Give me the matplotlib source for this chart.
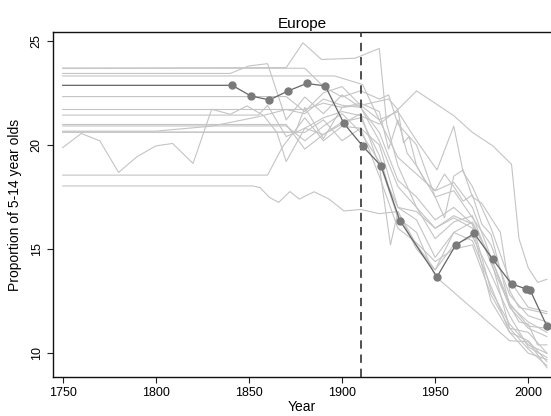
import matplotlib
matplotlib.use("Agg")
import matplotlib.pyplot as plt

plt.rcParams['font.family'] = ['Liberation Sans', 'DejaVu Sans']

title = "Europe"
xlabel = "Year"
ylabel = "Proportion of 5-14 year olds"
xticks = [1750, 1800, 1850, 1900, 1950, 2000]
yticks = [10, 15, 20, 25]
cutoff_year = 1910

# Highlighted country
hi_years = [1750, 1841, 1851, 1861, 1871, 1881, 1891, 1901, 1911, 1921, 1931,
            1951, 1961, 1971, 1981, 1991, 1999, 2001, 2010]
hi_vals = [22.86, 22.86, 22.35, 22.16, 22.59, 22.95, 22.83, 21.03, 19.95, 18.99, 16.37,
           13.67, 15.19, 15.75, 14.50, 13.33, 13.08, 13.03, 11.30]

# Other countries (gray)
g1_years = [1750, 1870, 1879, 1889, 1907, 1920, 1924, 1930, 1940, 1950, 1960, 1970, 1980, 1990, 2000, 2010]
g1_vals = [23.68, 23.71, 24.9, 24.1, 24.16, 24.63, 21.0, 19.0, 17.0, 16.0, 16.6, 16.2, 14.6, 12.2, 11.2, 10.8]

g2_years = [1750, 1840, 1850, 1860, 1870, 1880, 1890, 1900, 1910, 1920, 1930, 1940, 1950, 1960, 1970, 1980, 1990, 2000, 2010]
g2_vals = [23.43, 23.43, 23.79, 23.9, 21.2, 22.3, 21.5, 22.4, 21.8, 20.6, 18.3, 17.5, 16.4, 17.0, 16.2, 13.0, 11.4, 10.4, 10.0]

g3_years = [1750, 1896, 1911, 1920, 1930, 1940, 1950, 1960, 1970, 1980, 1990, 2000, 2010]
g3_vals = [23.31, 23.31, 22.9, 21.2, 19.4, 18.6, 17.8, 18.2, 17.0, 14.6, 12.4, 11.3, 11.2]

g4_years = [1750, 1870, 1880, 1890, 1900, 1910, 1920, 1925, 1930, 1940, 1950, 1960, 1970, 1981, 1991, 1995, 2000, 2005, 2010]
g4_vals = [22.32, 22.32, 21.6, 22.5, 22.8, 21.9, 22.1, 22.2, 21.7, 22.59, 22.0, 21.4, 20.6, 19.95, 19.07, 15.5, 14.1, 13.4, 13.55]

g5_years = [1750, 1880, 1890, 1900, 1910, 1920, 1930, 1940, 1951, 1960, 1965, 1970, 1980, 1990, 2000, 2010]
g5_vals = [21.70, 21.70, 22.0, 21.8, 21.9, 21.2, 21.6, 20.2, 18.8, 20.9, 18.7, 18.0, 16.0, 13.5, 12.2, 12.0]

g6_years = [1750, 1855, 1860, 1870, 1880, 1890, 1900, 1910, 1920, 1930, 1933, 1936, 1940, 1950, 1960, 1970, 1980, 1990, 2000, 2010]
g6_vals = [21.43, 21.43, 21.9, 20.4, 20.8, 21.3, 21.6, 21.4, 21.0, 21.7, 20.1, 20.4, 19.0, 17.5, 17.8, 16.5, 15.2, 12.8, 11.8, 11.5]

g7_years = [1750, 1870, 1880, 1890, 1900, 1910, 1920, 1925, 1930, 1940, 1950, 1960, 1970, 1980, 1990, 2000, 2010]
g7_vals = [20.98, 20.98, 19.8, 20.5, 21.1, 21.3, 19.5, 18.0, 17.0, 16.4, 14.6, 15.8, 15.4, 13.2, 11.0, 10.0, 9.7]

g8_years = [1750, 1870, 1880, 1890, 1900, 1910, 1920, 1930, 1940, 1950, 1990, 2000, 2010]
g8_vals = [20.91, 20.91, 20.2, 20.9, 21.5, 20.6, 19.2, 16.5, 15.8, 13.7, 10.6, 10.55, 9.3]

g9_years = [1750, 1800, 1830, 1855, 1870, 1880, 1890, 1900, 1910, 1920, 1930, 1940, 1950, 1960, 1970, 1980, 1990, 2000, 2010]
g9_vals = [20.66, 20.66, 20.9, 21.35, 21.7, 21.5, 22.2, 21.9, 21.8, 20.2, 18.0, 17.0, 15.5, 16.3, 16.6, 14.3, 12.3, 11.5, 11.0]

g10_years = [1750, 1870, 1880, 1890, 1900, 1910, 1920, 1930, 1940, 1950, 1960, 1970, 1980, 1990, 2000, 2010]
g10_vals = [20.61, 20.61, 20.6, 21.2, 20.2, 20.8, 18.5, 16.0, 15.3, 14.4, 15.0, 15.2, 12.8, 11.2, 10.2, 9.4]

g11_years = [1750, 1860, 1868, 1880, 1890, 1900, 1910, 1920, 1930, 1940, 1950, 1960, 1970, 1980, 1990, 2000, 2010]
g11_vals = [18.55, 18.55, 19.9, 21.3, 20.2, 20.9, 20.8, 20.0, 17.0, 16.8, 16.0, 16.5, 16.0, 12.5, 11.0, 10.6, 9.6]

g12_years = [1750, 1852, 1856, 1861, 1866, 1872, 1877, 1885, 1893, 1901, 1910, 1920, 1930, 1940, 1950, 1960, 1970, 1980, 1990, 2000, 2010]
g12_vals = [18.03, 18.03, 17.95, 17.48, 17.24, 17.76, 17.4, 17.75, 17.4, 16.83, 16.9, 16.7, 16.8, 15.0, 14.0, 15.8, 16.3, 14.5, 11.2, 11.0, 10.0]

g13_years = [1750, 1760, 1770, 1780, 1790, 1800, 1809, 1820, 1830, 1840, 1849, 1858, 1865, 1870, 1880, 1890, 1900, 1910, 1920, 1926, 1930, 1940, 1950, 1960, 1970, 1980, 1990, 2000, 2010]
g13_vals = [19.87, 20.55, 20.19, 18.68, 19.44, 19.95, 20.07, 19.11, 21.71, 21.47, 21.87, 21.4, 20.6, 19.2, 20.8, 20.5, 21.0, 21.5, 19.0, 15.2, 16.8, 15.2, 14.0, 15.2, 15.6, 13.8, 11.8, 10.3, 9.8]

g14_years = [1750, 1875, 1880, 1890, 1900, 1910, 1920, 1925, 1930, 1935, 1940, 1945, 1950, 1955, 1960, 1965, 1970, 1975, 1980, 1985, 1990, 1995, 2000, 2005, 2010]
g14_vals = [20.61, 20.61, 21.8, 20.3, 21.8, 22.0, 21.6, 19.8, 21.2, 19.6, 19.0, 18.2, 17.8, 18.6, 18.0, 17.3, 17.6, 16.2, 15.7, 14.0, 12.3, 11.5, 11.4, 10.4, 10.4]

g15_years = [1750, 1880, 1890, 1900, 1910, 1920, 1925, 1930, 1940, 1950, 1955, 1960, 1965, 1970, 1975, 1980, 1985, 1990, 1995, 2000, 2010]
g15_vals = [23.68, 23.68, 22.8, 22.3, 22.6, 22.2, 22.4, 21.0, 20.0, 17.5, 16.5, 18.5, 18.8, 17.5, 17.2, 16.5, 15.8, 13.0, 12.2, 12.1, 11.9]

gray_series = [
    (g1_years, g1_vals), (g2_years, g2_vals), (g3_years, g3_vals), (g4_years, g4_vals),
    (g5_years, g5_vals), (g6_years, g6_vals), (g7_years, g7_vals), (g8_years, g8_vals),
    (g9_years, g9_vals), (g10_years, g10_vals), (g11_years, g11_vals), (g12_years, g12_vals),
    (g13_years, g13_vals), (g14_years, g14_vals), (g15_years, g15_vals),
]

fig = plt.figure(figsize=(5.51, 4.16), dpi=100)
ax = fig.add_axes([0.0962, 0.0938, 0.9038, 0.8293])

for yrs, vals in gray_series:
    ax.plot(yrs, vals, color='#c4c4c4', lw=0.8, zorder=2)

ax.plot(hi_years, hi_vals, color='#666666', lw=0.9, zorder=4)
ax.plot(hi_years[1:], hi_vals[1:], linestyle='none', marker='o', ms=5,
        color='#7a7a7a', zorder=5)

ax.axvline(cutoff_year, color='#333333', lw=1.2, dashes=(5, 3.5), zorder=3)

ax.set_xlim(1744.8, 2012.2)
ax.set_ylim(8.86, 25.42)
ax.set_xticks(xticks)
ax.set_yticks(yticks)
ax.tick_params(axis='both', labelsize=9, length=4.5, width=0.8, color='#222222', pad=3)
for lab in ax.get_yticklabels():
    lab.set_rotation(90)
    lab.set_va('center')

ax.spines['right'].set_visible(False)
for s in ['left', 'bottom', 'top']:
    ax.spines[s].set_linewidth(1.0)
    ax.spines[s].set_color('#111111')

ax.set_title(title, fontsize=11, pad=3)
ax.set_xlabel(xlabel, fontsize=10, labelpad=0.5)
ax.set_ylabel(ylabel, fontsize=10, labelpad=6)

fig.savefig("out.png", dpi=100)
